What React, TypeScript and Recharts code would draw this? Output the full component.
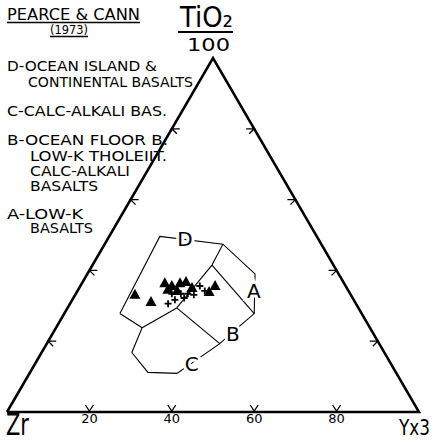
import React from "react";
import { ScatterChart, Scatter, XAxis, YAxis } from "recharts";

// ternary compositions as [TiO2/100, Zr, Y*3]
type Tern = [number, number, number];

const vertices: Tern[] = [
  [0, 100, 0],
  [0, 0, 100],
  [100, 0, 0],
  [0, 100, 0],
];

const tickValues = [20, 40, 60, 80];

const fieldOutline: Tern[] = [
  [27.8, 58.7, 13.5],
  [49.6, 38.1, 12.3],
  [47.4, 23.9, 28.7],
  [39.0, 20.3, 40.7],
  [27.8, 26.1, 46.1],
  [24.4, 31.2, 44.4],
  [19.3, 38.7, 42.0],
  [10.9, 53.3, 35.8],
  [11.2, 60.2, 28.6],
  [16.8, 61.3, 21.9],
  [23.8, 55.3, 20.9],
  [27.8, 58.7, 13.5],
];

const fieldDividers: Tern[][] = [
  [[23.8, 55.3, 20.9], [29.4, 44.1, 26.5]],
  [[29.4, 44.1, 26.5], [19.3, 38.7, 42.0]],
  [[29.4, 44.1, 26.5], [41.5, 29.5, 29.0]],
  [[41.5, 29.5, 29.0], [47.4, 23.9, 28.7]],
  [[41.5, 29.5, 29.0], [27.8, 26.1, 46.1]],
];

const fieldNames = ["D", "A", "B", "C"];
const fieldLabelPos: Tern[] = [
  [49.0, 32.3, 18.7],
  [34.2, 23.0, 42.8],
  [22.1, 34.1, 43.8],
  [13.7, 48.3, 38.0],
];

const triangleSamples: Tern[] = [
  [33.1, 52.4, 14.5],
  [31.1, 49.5, 19.4],
  [36.4, 43.5, 20.1],
  [35.6, 42.2, 22.2],
  [36.4, 39.8, 23.8],
  [36.7, 38.2, 25.1],
  [35.0, 37.6, 27.4],
  [33.9, 34.0, 32.1],
  [35.6, 31.7, 32.7],
  [34.5, 43.7, 21.8],
  [34.2, 41.6, 24.2],
];

const crossSamples: Tern[] = [
  [30.6, 45.6, 23.8],
  [31.7, 43.4, 24.9],
  [35.6, 35.4, 29.0],
  [33.4, 41.1, 25.5],
  [33.4, 39.4, 27.2],
  [33.1, 38.1, 28.8],
  [33.4, 43.3, 23.3],
  [32.2, 40.9, 26.9],
  [34.2, 34.9, 30.9],
];

const legendLines = [
  "D-OCEAN ISLAND &",
  "CONTINENTAL BASALTS",
  "C-CALC-ALKALI BAS.",
  "B-OCEAN FLOOR B.",
  "LOW-K THOLEIIT.",
  "CALC-ALKALI",
  "BASALTS",
  "A-LOW-K",
  "BASALTS",
];

const toXY = ([ti, zr, y]: Tern) => {
  const s = ti + zr + y;
  return { x: ((y + ti / 2) / s) * 100, y: (ti / s) * 100 * (Math.sqrt(3) / 2) };
};

const FONT = "'DejaVu Sans', sans-serif";
const noShape = () => <g />;

const TriangleMark = ({ cx, cy }: any) => (
  <polygon
    points={`${cx},${cy - 6} ${cx - 5.5},${cy + 4} ${cx + 5.5},${cy + 4}`}
    fill="#000"
  />
);

const CrossMark = ({ cx, cy }: any) => (
  <path
    d={`M${cx - 3.5},${cy}H${cx + 3.5}M${cx},${cy - 3.5}V${cy + 3.5}`}
    stroke="#000"
    strokeWidth={1.8}
  />
);

const TickMark = ({ cx, cy, payload }: any) => {
  if (payload.edge === "bottom") {
    return (
      <g>
        <path
          d={`M${cx - 4},${cy - 7}L${cx},${cy - 1}L${cx + 4},${cy - 7}`}
          stroke="#000"
          strokeWidth={1.3}
          fill="none"
        />
        <text
          x={cx}
          y={cy + 11}
          textAnchor="middle"
          fontFamily={FONT}
          fontSize={13}
        >
          {payload.label}
        </text>
      </g>
    );
  }
  const d = payload.edge === "left" ? 1 : -1;
  return (
    <path
      d={`M${cx + d * 8},${cy}L${cx},${cy}L${cx + d * 5},${cy + 5}`}
      stroke="#000"
      strokeWidth={1.3}
      fill="none"
    />
  );
};

const FieldLabel = ({ cx, cy, payload }: any) => (
  <text
    x={cx}
    y={cy}
    textAnchor="middle"
    dominantBaseline="central"
    fontFamily={FONT}
    fontSize={20}
    stroke="#fff"
    strokeWidth={6}
    paintOrder="stroke"
    fill="#000"
  >
    {payload.name}
  </text>
);

const tickData = tickValues.flatMap((t) => [
  { ...toXY([0, 100 - t, t]), edge: "bottom", label: String(t) },
  { ...toXY([t, 100 - t, 0]), edge: "left", label: String(t) },
  { ...toXY([t, 0, 100 - t]), edge: "right", label: String(t) },
]);

const labelData = fieldNames.map((name, i) => ({ ...toXY(fieldLabelPos[i]), name }));

const legendLayout = [
  { x: 7, y: 71, w: 150 },
  { x: 28, y: 87, w: 165 },
  { x: 7, y: 116, w: 160 },
  { x: 7, y: 145, w: 161 },
  { x: 30, y: 161, w: 137 },
  { x: 30, y: 176, w: 100 },
  { x: 30, y: 191, w: 68 },
  { x: 7, y: 219, w: 76 },
  { x: 30, y: 233, w: 63 },
];

export default function App() {
  return (
    <div
      style={{
        position: "absolute",
        left: 0,
        top: 0,
        width: 437,
        height: 446,
        background: "#fff",
      }}
    >
      <ScatterChart
        width={437}
        height={446}
        margin={{ top: 58, right: 18, bottom: 34, left: 7 }}
      >
        <XAxis type="number" dataKey="x" domain={[0, 100]} hide />
        <YAxis type="number" dataKey="y" domain={[0, 86.6025]} hide />
        <Scatter
          data={vertices.map(toXY)}
          line={{ stroke: "#000", strokeWidth: 2.5, strokeLinejoin: "miter" }}
          lineType="joint"
          shape={noShape}
          isAnimationActive={false}
        />
        <Scatter
          data={fieldOutline.map(toXY)}
          line={{ stroke: "#000", strokeWidth: 1.1 }}
          lineType="joint"
          shape={noShape}
          isAnimationActive={false}
        />
        {fieldDividers.map((seg, i) => (
          <Scatter
            key={`div-${i}`}
            data={seg.map(toXY)}
            line={{ stroke: "#000", strokeWidth: 1.1 }}
            lineType="joint"
            shape={noShape}
            isAnimationActive={false}
          />
        ))}
        <Scatter data={tickData} shape={TickMark} isAnimationActive={false} />
        <Scatter data={labelData} shape={FieldLabel} isAnimationActive={false} />
        <Scatter
          data={crossSamples.map(toXY)}
          shape={CrossMark}
          isAnimationActive={false}
        />
        <Scatter
          data={triangleSamples.map(toXY)}
          shape={TriangleMark}
          isAnimationActive={false}
        />
      </ScatterChart>
      <svg
        width={437}
        height={446}
        style={{ position: "absolute", left: 0, top: 0, pointerEvents: "none" }}
        fontFamily={FONT}
      >
        <text x={7} y={19.5} fontSize={15} textLength={133} lengthAdjust="spacingAndGlyphs">
          PEARCE &amp; CANN
        </text>
        <line x1={7} x2={140} y1={22.5} y2={22.5} stroke="#000" strokeWidth={1.3} />
        <text x={50} y={34} fontSize={13} textLength={38} lengthAdjust="spacingAndGlyphs">
          (1973)
        </text>
        <line x1={50} x2={88} y1={36.5} y2={36.5} stroke="#000" strokeWidth={1.3} />

        <text x={180} y={27} fontSize={29} textLength={53} lengthAdjust="spacingAndGlyphs">
          TiO₂
        </text>
        <line x1={178} x2={233} y1={32} y2={32} stroke="#000" strokeWidth={2} />
        <text x={187} y={51} fontSize={17} textLength={43} lengthAdjust="spacingAndGlyphs">
          100
        </text>

        {legendLines.map((t, i) => (
          <text
            key={i}
            x={legendLayout[i].x}
            y={legendLayout[i].y}
            fontSize={14}
            textLength={legendLayout[i].w}
            lengthAdjust="spacingAndGlyphs"
          >
            {t}
          </text>
        ))}

        <text x={6} y={435} fontSize={30} textLength={23} lengthAdjust="spacingAndGlyphs">
          Zr
        </text>
        <text
          x={430}
          y={435}
          textAnchor="end"
          fontSize={22}
          textLength={31}
          lengthAdjust="spacingAndGlyphs"
        >
          Yx3
        </text>
      </svg>
    </div>
  );
}
